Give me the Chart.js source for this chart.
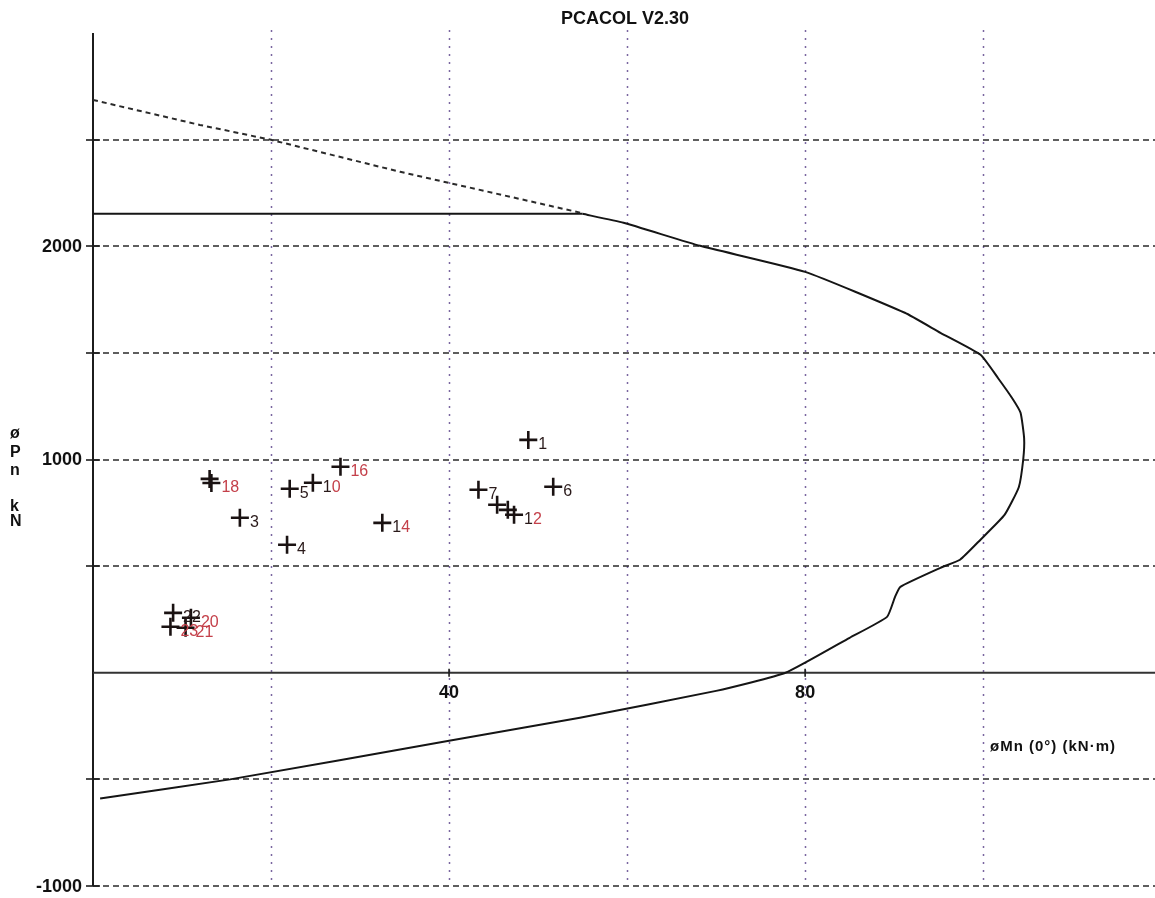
<!DOCTYPE html>
<html>
<head>
<meta charset="utf-8">
<script src="https://cdn.jsdelivr.net/npm/chart.js@4.4.1/dist/chart.umd.min.js"></script>
<style>
  html, body { margin: 0; padding: 0; background: #ffffff; }
  #wrap { width: 1155px; height: 898px; position: relative; }
</style>
</head>
<body>
<div id="wrap"><canvas id="c" width="1155" height="898"></canvas></div>
<script>
// Flat compression cap of the design curve (kN·m, kN)
const capMoment = [0, 55];
const capLoad   = [2152, 2152];

// Design interaction curve below the cap
const curveMoment = [55, 59.6, 68.2, 80.0, 91.2, 95.2, 99.7, 101.7, 103.3, 104.2, 104.6, 104.5, 104.0, 102.4, 99.7, 97.4, 95.2, 90.7, 90.1, 89.2, 85.0, 77.8, 70.0, 54.7, 40.0, 15.4, 0.8];
const curveLoad   = [2152, 2110, 2002, 1880, 1688, 1594, 1491, 1380, 1285, 1219, 1100, 1000, 870, 740, 624, 530, 492, 403, 356, 262, 164, 0, -85, -211, -319, -500, -590];

// Unreduced cap line (dashed)
const dashMoment = [0, 12, 20, 34.5, 55];
const dashLoad   = [2686, 2569, 2499, 2349, 2155];

// Factored load cases
const caseName     = ['1', '7', '6', '', '', '12', '16', '10', '5', '14', '4', '3', '18', '', '22', '20', '23', '21'];
const caseMoment   = [48.9, 43.3, 51.7, 45.4, 46.6, 47.3, 27.8, 24.7, 22.1, 32.5, 21.8, 16.5, 13.3, 13.1, 9.0, 11.0, 8.7, 10.4];
const caseLoad     = [1092, 858, 872, 788, 764, 741, 966, 891, 863, 703, 600, 727, 890, 909, 281, 258, 216, 211];
const caseRed      = [false, false, false, false, false, true, true, true, false, true, false, false, true, false, false, true, true, true];
const caseLeadDark = [false, false, false, false, false, true, false, true, false, true, false, false, false, false, false, false, false, false];

// Axis ticks and grid
const xTickValues = [40, 80];
const yTickValues = [2000, 1000, -1000];
const xGridValues = [20, 40, 60, 80, 100];
const yGridValues = [-1000, -500, 500, 1000, 1500, 2000, 2500];

const FONT = '"Liberation Sans", Arial, sans-serif';
const INK = '#1c1c1c';
const RED = '#c4404a';
const DARK = '#2a1a1a';

const zip = (xs, ys) => xs.map((v, i) => ({ x: v, y: ys[i] }));

const framePlugin = {
  id: 'frame',
  beforeDatasetsDraw(chart) {
    const { ctx, width, chartArea: a, scales: { x, y } } = chart;
    const x0 = x.getPixelForValue(0);
    const y0 = y.getPixelForValue(0);
    const seg = (x1, y1, x2, y2) => { ctx.beginPath(); ctx.moveTo(x1, y1); ctx.lineTo(x2, y2); ctx.stroke(); };
    ctx.save();
    // vertical dotted grid
    ctx.strokeStyle = '#7a66a0';
    ctx.lineWidth = 1.5;
    ctx.setLineDash([2, 6]);
    xGridValues.forEach(v => {
      const px = Math.round(x.getPixelForValue(v)) + 0.5;
      seg(px, a.top - 3, px, a.bottom);
    });
    // horizontal dashed grid
    ctx.strokeStyle = '#2a2a2a';
    ctx.lineWidth = 1.6;
    ctx.setLineDash([6, 4]);
    yGridValues.forEach(v => {
      const py = Math.round(y.getPixelForValue(v));
      seg(x0, py, width, py);
    });
    // axes
    ctx.setLineDash([]);
    ctx.strokeStyle = INK;
    ctx.lineWidth = 2;
    seg(x0, a.top, x0, a.bottom);
    ctx.strokeStyle = '#333';
    seg(x0, y0, width, y0);
    // tick marks across the axes
    ctx.strokeStyle = INK;
    ctx.lineWidth = 1.6;
    yGridValues.forEach(v => {
      const py = Math.round(y.getPixelForValue(v));
      seg(x0 - 7, py, x0 + 7, py);
    });
    xTickValues.forEach(v => {
      const px = x.getPixelForValue(v);
      seg(px, y0 - 4, px, y0 + 4);
    });
    // tick labels
    ctx.fillStyle = '#111';
    ctx.font = 'bold 18px ' + FONT;
    ctx.textAlign = 'right';
    ctx.textBaseline = 'middle';
    yTickValues.forEach(v => ctx.fillText(String(v), x0 - 11, y.getPixelForValue(v) + 1));
    ctx.textAlign = 'center';
    ctx.textBaseline = 'top';
    xTickValues.forEach(v => ctx.fillText(String(v), x.getPixelForValue(v), y0 + 11));
    ctx.restore();
  },
  afterDraw(chart) {
    const { ctx } = chart;
    ctx.save();
    ctx.fillStyle = '#111';
    // title
    ctx.font = 'bold 18px ' + FONT;
    ctx.textAlign = 'center';
    ctx.textBaseline = 'alphabetic';
    ctx.fillText('PCACOL V2.30', 625, 24);
    // vertical axis title, stacked letters
    ctx.font = 'bold 16px ' + FONT;
    ctx.textAlign = 'left';
    [['ø', 438], ['P', 457], ['n', 475], ['k', 511], ['N', 526]].forEach(([t, yy]) => ctx.fillText(t, 10, yy));
    // horizontal axis title
    ctx.font = 'bold 15px ' + FONT;
    ctx.letterSpacing = '1px';
    ctx.fillText('øMn (0°) (kN·m)', 990, 751);
    ctx.letterSpacing = '0px';
    // load case labels
    const meta = chart.getDatasetMeta(3);
    ctx.font = '16px ' + FONT;
    ctx.textBaseline = 'middle';
    meta.data.forEach((pt, i) => {
      const name = caseName[i];
      if (!name) return;
      const tx = pt.x + 10, ty = pt.y + 5;
      const main = caseRed[i] ? RED : DARK;
      if (caseLeadDark[i] && name.length > 1) {
        ctx.fillStyle = DARK;
        ctx.fillText(name[0], tx, ty);
        ctx.fillStyle = main;
        ctx.fillText(name.slice(1), tx + ctx.measureText(name[0]).width, ty);
      } else {
        ctx.fillStyle = main;
        ctx.fillText(name, tx, ty);
      }
    });
    ctx.restore();
  }
};

new Chart(document.getElementById('c'), {
  type: 'scatter',
  data: {
    datasets: [
      {
        label: 'Cap',
        data: zip(capMoment, capLoad),
        showLine: true,
        borderColor: '#151515',
        borderWidth: 2,
        pointRadius: 0,
        tension: 0,
        order: 4
      },
      {
        label: 'Design strength',
        data: zip(curveMoment, curveLoad),
        showLine: true,
        borderColor: '#151515',
        borderWidth: 2,
        pointRadius: 0,
        tension: 0.15,
        order: 3
      },
      {
        label: 'Nominal cap',
        data: zip(dashMoment, dashLoad),
        showLine: true,
        borderColor: '#2a2a2a',
        borderWidth: 2,
        borderDash: [5, 4],
        pointRadius: 0,
        tension: 0,
        order: 2
      },
      {
        label: 'Load cases',
        data: zip(caseMoment, caseLoad),
        showLine: false,
        pointStyle: 'cross',
        pointRadius: 9,
        pointBorderWidth: 2.6,
        borderColor: '#1a1212',
        backgroundColor: '#1a1212',
        order: 1
      }
    ]
  },
  options: {
    responsive: false,
    animation: false,
    layout: { padding: { top: 33, bottom: 12, left: 0, right: 0 } },
    plugins: { legend: { display: false }, tooltip: { enabled: false }, title: { display: false } },
    scales: {
      x: {
        type: 'linear',
        position: { y: 0 },
        min: 0,
        max: 118,
        ticks: { display: false },
        grid: { display: false },
        border: { display: false }
      },
      y: {
        type: 'linear',
        position: 'left',
        min: -1000,
        max: 3000,
        afterFit: s => { s.width = 93; },
        ticks: { display: false },
        grid: { display: false },
        border: { display: false }
      }
    }
  },
  plugins: [framePlugin]
});
</script>
</body>
</html>
